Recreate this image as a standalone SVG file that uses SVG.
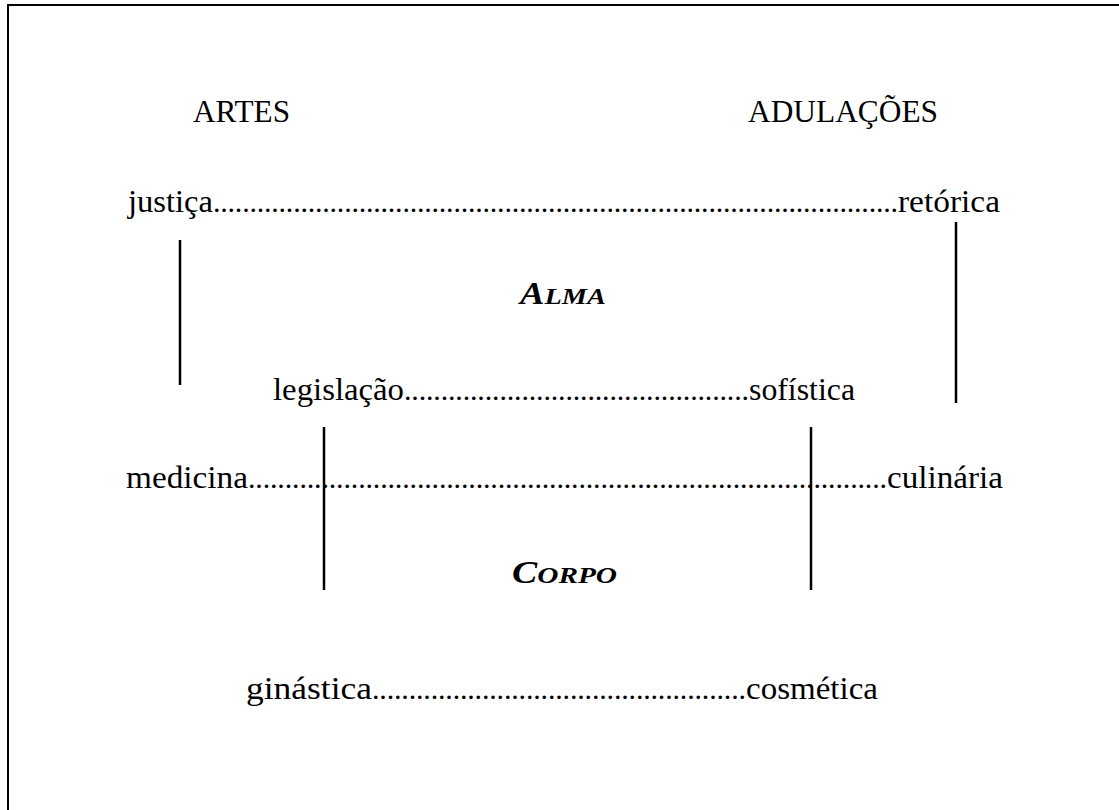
<svg xmlns="http://www.w3.org/2000/svg" width="1119" height="810" viewBox="0 0 1119 810">
<style>
.t{font-family:"Liberation Serif","Times New Roman",serif;font-size:31px;fill:#000}
.d{font-family:"Liberation Serif","Times New Roman",serif;font-size:30px;fill:#000}
.sc{font-family:"Liberation Serif","Times New Roman",serif;font-style:italic;font-weight:bold;font-size:31px;fill:#000}
.ln{stroke:#000;stroke-width:2.5;fill:none}
.frame{stroke:#000;stroke-width:2;fill:none}
</style>
<rect width="1119" height="810" fill="#fff"/>
<path class="frame" d="M8,810 V5 H1119"/>
<g id="artes"><text class="t" x="193" y="122" textLength="97" lengthAdjust="spacingAndGlyphs">ARTES</text></g>
<g id="adulacoes"><text class="t" x="748" y="122" textLength="190" lengthAdjust="spacingAndGlyphs">ADULAÇÕES</text></g>
<g id="alma"><text class="sc" x="520" y="304" textLength="86" lengthAdjust="spacingAndGlyphs">A<tspan font-size="24">LMA</tspan></text></g>
<g id="corpo"><text class="sc" x="512" y="583" textLength="105" lengthAdjust="spacingAndGlyphs">C<tspan font-size="24">ORPO</tspan></text></g>
<g id="justica"><text class="t" x="128" y="212" textLength="85" lengthAdjust="spacingAndGlyphs">justiça</text></g>
<g id="retorica"><text class="t" x="898" y="212" textLength="102" lengthAdjust="spacingAndGlyphs">retórica</text></g>
<g id="legislacao"><text class="t" x="273" y="400" textLength="131" lengthAdjust="spacingAndGlyphs">legislação</text></g>
<g id="sofistica"><text class="t" x="749" y="400" textLength="106" lengthAdjust="spacingAndGlyphs">sofística</text></g>
<g id="medicina"><text class="t" x="126" y="488" textLength="122" lengthAdjust="spacingAndGlyphs">medicina</text></g>
<g id="culinaria"><text class="t" x="887" y="488" textLength="116" lengthAdjust="spacingAndGlyphs">culinária</text></g>
<g id="ginastica"><text class="t" x="246" y="699" textLength="126" lengthAdjust="spacingAndGlyphs">ginástica</text></g>
<g id="cosmetica"><text class="t" x="746" y="699" textLength="132" lengthAdjust="spacingAndGlyphs">cosmética</text></g>
<g id="connectors">
<text class="d" x="213" y="212" textLength="685" lengthAdjust="spacing">..............................................................................................</text>
<text class="d" x="404" y="400" textLength="345" lengthAdjust="spacing">...............................................</text>
<text class="d" x="248" y="488" textLength="639" lengthAdjust="spacing">.......................................................................................</text>
<text class="d" x="372" y="699" textLength="374" lengthAdjust="spacing">...................................................</text>
<line class="ln" x1="180" y1="240" x2="180" y2="385"/>
<line class="ln" x1="956" y1="222" x2="956" y2="403"/>
<line class="ln" x1="324" y1="427" x2="324" y2="590"/>
<line class="ln" x1="811" y1="427" x2="811" y2="590"/>
</g>
</svg>
